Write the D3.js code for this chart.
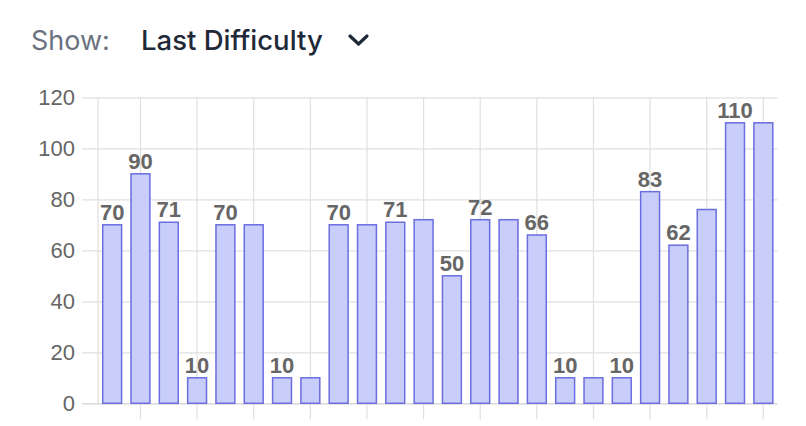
<!DOCTYPE html>
<html>
<head>
<meta charset="utf-8">
<script src="https://cdn.jsdelivr.net/npm/d3@7"></script>
<style>
  html, body { margin: 0; padding: 0; background: #fff; }
  svg { display: block; }
</style>
</head>
<body>
<svg id="chart" width="806" height="426"></svg>
<script>
// ---- data ----
const categories = d3.range(1, 25).map(String);
const values = [70, 90, 71, 10, 70, 70, 10, 10, 70, 70, 71, 72, 50, 72, 72, 66, 10, 10, 10, 83, 62, 76, 110, 110];
const labelShown = [1, 1, 1, 1, 1, 0, 1, 0, 1, 0, 1, 0, 1, 1, 0, 1, 1, 0, 1, 1, 1, 0, 1, 0];
const yTicks = [0, 20, 40, 60, 80, 100, 120];
const headerLabel = "Show:";
const headerValue = "Last Difficulty";

// ---- layout ----
const svg = d3.select("#chart");
const pLeft = 98, pRight = 777.5, pTop = 97.3, pBottom = 403.3;

const x = d3.scaleBand().domain(categories).range([pLeft, pRight]).paddingInner(0.28).paddingOuter(0.14);
const y = d3.scaleLinear().domain([0, 120]).range([pBottom, pTop]);

// header
svg.append("text").attr("x", 31).attr("y", 50)
  .attr("font-family", "Inter, 'Liberation Sans', sans-serif").attr("font-size", 27)
  .attr("fill", "#6b7280").text(headerLabel);
svg.append("text").attr("x", 141).attr("y", 50)
  .attr("font-family", "Inter, 'Liberation Sans', sans-serif").attr("font-size", 27.5).attr("font-weight", 500)
  .attr("fill", "#1f2937").text(headerValue);
svg.append("path").attr("d", "M350,36 L358.5,44 L367,36")
  .attr("fill", "none").attr("stroke", "#1f2937").attr("stroke-width", 3.2)
  .attr("stroke-linecap", "round").attr("stroke-linejoin", "round");

// horizontal grid + y ticks
const yAxis = d3.axisLeft(y).tickValues(yTicks).tickSize(pRight - 82).tickSizeOuter(0).tickPadding(7);
const gy = svg.append("g").attr("transform", `translate(${pRight},0)`).call(yAxis);
gy.select(".domain").remove();
gy.selectAll(".tick line").attr("stroke", d => d === 0 ? "#cfcfcf" : "#e0e0e0").attr("stroke-width", 1.2);
gy.selectAll(".tick text").attr("x", 75 - pRight).attr("fill", "#666")
  .attr("font-family", "'Liberation Sans', Arial, sans-serif").attr("font-size", 22);

// vertical grid lines at every other category
const gridCats = categories.filter((d, i) => i % 2 === 1);
const xAxis = d3.axisBottom(x).tickValues(gridCats).tickSize(-(pBottom - pTop)).tickFormat("");
const gx = svg.append("g").attr("transform", `translate(0,${pBottom})`).call(xAxis);
gx.select(".domain").remove();
gx.selectAll(".tick line").attr("stroke", "#e0e0e0").attr("stroke-width", 1.2);
// tick marks below axis
const xAxis2 = d3.axisBottom(x).tickValues(gridCats).tickSize(16).tickFormat("");
const gx2 = svg.append("g").attr("transform", `translate(0,${pBottom})`).call(xAxis2);
gx2.select(".domain").remove();
gx2.selectAll(".tick line").attr("stroke", "#e0e0e0").attr("stroke-width", 1.2);
// left edge line
svg.append("line").attr("x1", pLeft).attr("x2", pLeft).attr("y1", pTop).attr("y2", pBottom)
  .attr("stroke", "#e0e0e0").attr("stroke-width", 1.2);

// bars
svg.append("g").selectAll("rect").data(values).join("rect")
  .attr("x", (d, i) => x(categories[i]) + 0.75)
  .attr("width", x.bandwidth() - 1.5)
  .attr("y", d => y(d))
  .attr("height", d => y(0) - y(d))
  .attr("fill", "#c8cdfa")
  .attr("stroke", "#6b6edf")
  .attr("stroke-width", 1.5);

// value labels
svg.append("g").selectAll("text").data(values.map((v, i) => ({ v, i })).filter(d => labelShown[d.i]))
  .join("text")
  .attr("x", d => x(categories[d.i]) + x.bandwidth() / 2)
  .attr("y", d => y(d.v) - 5)
  .attr("text-anchor", "middle")
  .attr("font-family", "'Liberation Sans', Arial, sans-serif")
  .attr("font-weight", "bold").attr("font-size", 22)
  .attr("fill", "#666")
  .text(d => d.v);
</script>
</body>
</html>
